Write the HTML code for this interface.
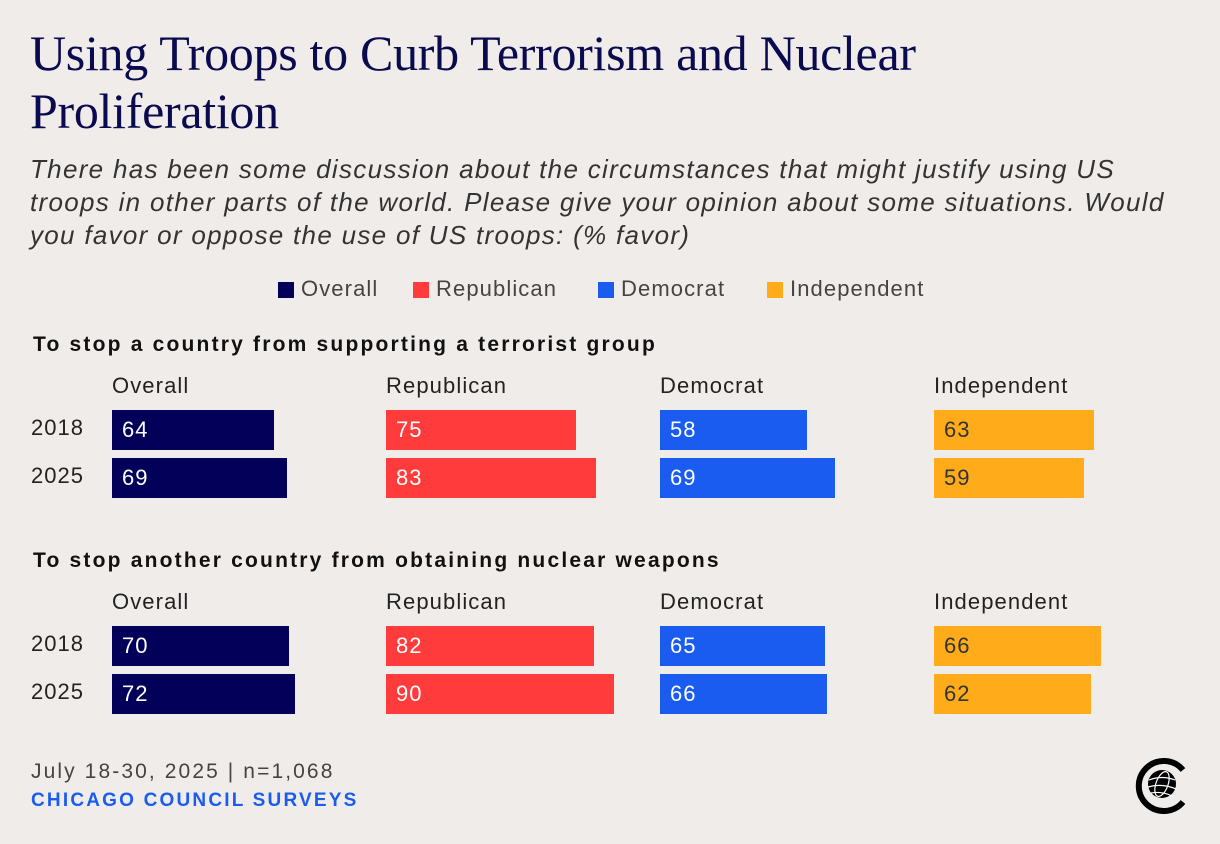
<!DOCTYPE html>
<html><head><meta charset="utf-8"><style>
body{margin:0;width:1220px;height:844px;background:#f0ecea;position:relative;overflow:hidden;font-family:"Liberation Sans",sans-serif;color:#222}
.abs{position:absolute;white-space:nowrap}
h1{position:absolute;left:30px;top:24px;margin:0;font-family:"Liberation Serif",serif;font-weight:normal;font-size:50px;line-height:58px;color:#0a0a4e;letter-spacing:-0.3px}
.sub{left:30px;top:153px;font-style:italic;font-size:26px;line-height:33px;color:#333;letter-spacing:1.3px}
.leg{font-size:22px;color:#444;top:276px;letter-spacing:1.1px}
.sw{position:absolute;width:16px;height:16px;top:282px}
.sec{left:33px;font-weight:bold;font-size:21px;color:#111;letter-spacing:2.2px}
.cat{font-size:22px;color:#222;letter-spacing:1.1px}
.yr{left:31px;font-size:22px;color:#222;letter-spacing:1px}
.bar{position:absolute;height:40px}
.val{position:absolute;font-size:22px;line-height:40px;left:10px;top:0;letter-spacing:1px}
</style></head><body>
<h1>Using Troops to Curb Terrorism and Nuclear<br>Proliferation</h1>
<div class="abs sub">There has been some discussion about the circumstances that might justify using US<br>troops in other parts of the world. Please give your opinion about some situations. Would<br>you favor or oppose the use of US troops: (% favor)</div>
<div class="sw" style="left:278px;background:#020058"></div>
<div class="abs leg" style="left:301px">Overall</div>
<div class="sw" style="left:413px;background:#ff3b3b"></div>
<div class="abs leg" style="left:436px">Republican</div>
<div class="sw" style="left:598px;background:#1a5cf0"></div>
<div class="abs leg" style="left:621px">Democrat</div>
<div class="sw" style="left:767px;background:#ffab1a"></div>
<div class="abs leg" style="left:790px">Independent</div>
<div id="chart"></div>
<div class="abs" style="left:31px;top:760px;font-size:21px;color:#444;letter-spacing:2.1px">July 18-30, 2025 | n=1,068</div>
<div class="abs" style="left:31px;top:790px;font-size:19px;font-weight:bold;color:#1a5cf0;letter-spacing:2.2px">CHICAGO COUNCIL SURVEYS</div>
<svg class="abs" style="left:1130px;top:754px" width="64" height="64">
<path d="M53,16 A25,25 0 1 0 53,48" fill="none" stroke="#000" stroke-width="6"/>
<circle cx="32" cy="30" r="14" fill="#000"/>
<g fill="none" stroke="#fff" stroke-width="1.2"><ellipse cx="32" cy="30" rx="6" ry="13" transform="rotate(20 32 30)"/><path d="M19,26 Q32,21 45,26 M18,33 Q32,29 46,35 M21,39 Q32,37 42,42"/></g>
</svg>
<script>
const sections=["To stop a country from supporting a terrorist group","To stop another country from obtaining nuclear weapons"];
const groups=["Overall","Republican","Democrat","Independent"];
const years=["2018","2025"];
const terror2018=[64,75,58,63];
const terror2025=[69,83,69,59];
const nuclear2018=[70,82,65,66];
const nuclear2025=[72,90,66,62];
const colors=["#020058","#ff3b3b","#1a5cf0","#ffab1a"];
const textColors=["#fff","#fff","#fff","#333"];
const data=[[terror2018,terror2025],[nuclear2018,nuclear2025]];
const groupX=[112,386,660,934];
const scale=v=>v*2.535;
const c=document.getElementById('chart');
function mk(cls,txt,l,t){const d=document.createElement('div');d.className='abs '+cls;d.textContent=txt;d.style.left=l+'px';d.style.top=t+'px';c.appendChild(d);return d;}
sections.forEach((s,si)=>{
 const base=si*216;
 const h=mk('sec',s,33,333+base);
 
 
 groups.forEach((g,gi)=>{
  const cl=mk('cat',g,groupX[gi],373+base);
  
  
 });
 years.forEach((y,yi)=>{
  const top=410+base+yi*48;
  const yl=mk('yr',y,31,top+5);
  
  
  groups.forEach((g,gi)=>{
   const v=data[si][yi][gi];
   const b=document.createElement('div');b.className='bar';
   b.style.left=groupX[gi]+'px';b.style.top=top+'px';b.style.width=scale(v)+'px';b.style.background=colors[gi];
   
   
   const t=document.createElement('div');t.className='val';t.textContent=v;t.style.color=textColors[gi];
   
   
   b.appendChild(t);c.appendChild(b);
  });
 });
});
</script>
</body></html>
